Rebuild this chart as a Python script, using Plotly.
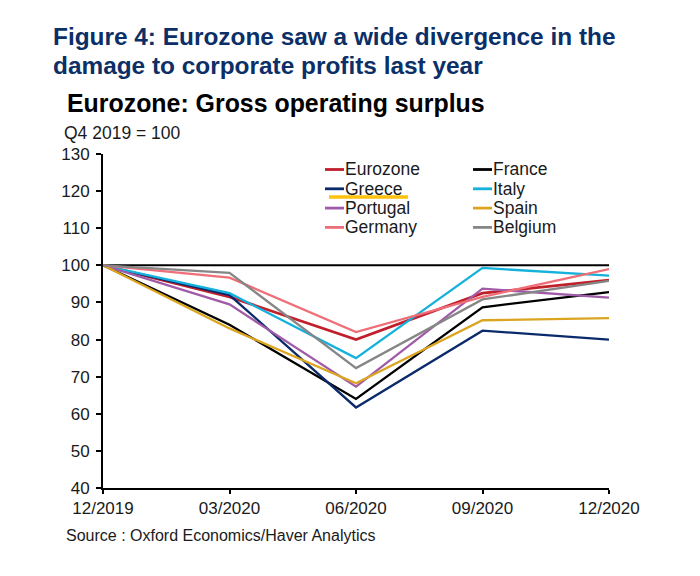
import plotly.graph_objects as go

periods = ["12/2019", "03/2020", "06/2020", "09/2020", "12/2020"]
eurozone = [100, 91.5, 80, 92.5, 96]
france = [100, 84, 64, 88.7, 92.8]
greece = [100, 92, 61.7, 82.4, 80]
italy = [100, 92.5, 75, 99.3, 97.2]
portugal = [100, 89.5, 67.3, 93.7, 91.3]
spain = [100, 83, 68.2, 85.2, 85.8]
germany = [100, 96.7, 82, 91.5, 99]
belgium = [100, 98, 72.3, 90.8, 95.8]
baseline = [100, 100, 100, 100, 100]
y_ticks = [40, 50, 60, 70, 80, 90, 100, 110, 120, 130]

FONT = "Liberation Sans, Arial, sans-serif"
TXT = "#1a1a1a"
OFF = 8  # page body margin
W, H = 700 - OFF, 576 - OFF
L, R, T, B = 103, 609, 154, 488

def px(x):
    return (x - L) / (R - L)

def py(y):
    return (B - y) / (B - T)

series = [
    ("Eurozone", eurozone, "#C0202B", 2.8),
    ("France", france, "#000000", 2.3),
    ("Greece", greece, "#0B2A6B", 2.3),
    ("Italy", italy, "#14B1DC", 2.3),
    ("Portugal", portugal, "#A05BA8", 2.3),
    ("Spain", spain, "#DBA520", 2.3),
    ("Germany", germany, "#EF6F78", 2.3),
    ("Belgium", belgium, "#868686", 2.3),
]

fig = go.Figure()
fig.add_trace(go.Scatter(x=periods, y=baseline, mode="lines", showlegend=False,
                         hoverinfo="skip", line=dict(color="#000000", width=2)))
for name, vals, col, lw in series:
    fig.add_trace(go.Scatter(x=periods, y=vals, mode="lines", name=name, showlegend=False,
                             line=dict(color=col, width=lw)))

shapes = [dict(type="line", xref="paper", yref="paper", x0=px(329), x1=px(408),
               y0=py(197), y1=py(197), line=dict(color="#FFC20E", width=3.5), layer="above")]

fig.update_layout(
    width=W, height=H, autosize=False,
    margin=dict(l=L - OFF, r=W + OFF - R, t=T - OFF, b=H + OFF - B, pad=0),
    paper_bgcolor="white", plot_bgcolor="white", showlegend=False,
    font=dict(family=FONT, size=17, color=TXT),
    xaxis=dict(type="category", categoryorder="array", categoryarray=periods,
               range=[0, 4], showgrid=False, zeroline=False, showline=True,
               linecolor="#000000", linewidth=2, ticks="outside", ticklen=4,
               tickwidth=2, tickcolor="#000000", tickfont=dict(size=17, color=TXT),
               tickangle=0, automargin=False),
    yaxis=dict(range=[40, 130], tickvals=y_ticks, showgrid=False, zeroline=False,
               showline=True, linecolor="#000000", linewidth=2, ticks="outside",
               ticklen=5, tickwidth=2, tickcolor="#000000", ticklabelstandoff=3,
               tickfont=dict(size=17, color=TXT), automargin=False),
)

def text(x, y, s, size, color, bold=False):
    fig.add_annotation(xref="paper", yref="paper", x=px(x), y=py(y),
                       text=f"<b>{s}</b>" if bold else s,
                       showarrow=False, xanchor="left", yanchor="middle", align="left",
                       font=dict(family=FONT, size=size, color=color))

# two-column key, read row by row from the series order
for i, (name, vals, col, lw) in enumerate(series):
    col_x = 325 + 148 * (i % 2)
    row_y = 169.5 + 19.3 * (i // 2)
    shapes.append(dict(type="line", xref="paper", yref="paper", x0=px(col_x), x1=px(col_x + 19),
                       y0=py(row_y), y1=py(row_y), line=dict(color=col, width=2.8)))
    text(col_x + 18, row_y, name, 17.5, TXT)

fig.update_layout(shapes=shapes)

text(51, 37, "Figure 4: Eurozone saw a wide divergence in the", 24.4, "#0B2F66", True)
text(51, 66, "damage to corporate profits last year", 24.4, "#0B2F66", True)
text(65, 103, "Eurozone: Gross operating surplus", 24.9, "#000000", True)
text(62, 133, "Q4 2019 = 100", 17.5, TXT)
text(64, 535, "Source : Oxford Economics/Haver Analytics", 16, TXT)

fig.write_html("out.html")
